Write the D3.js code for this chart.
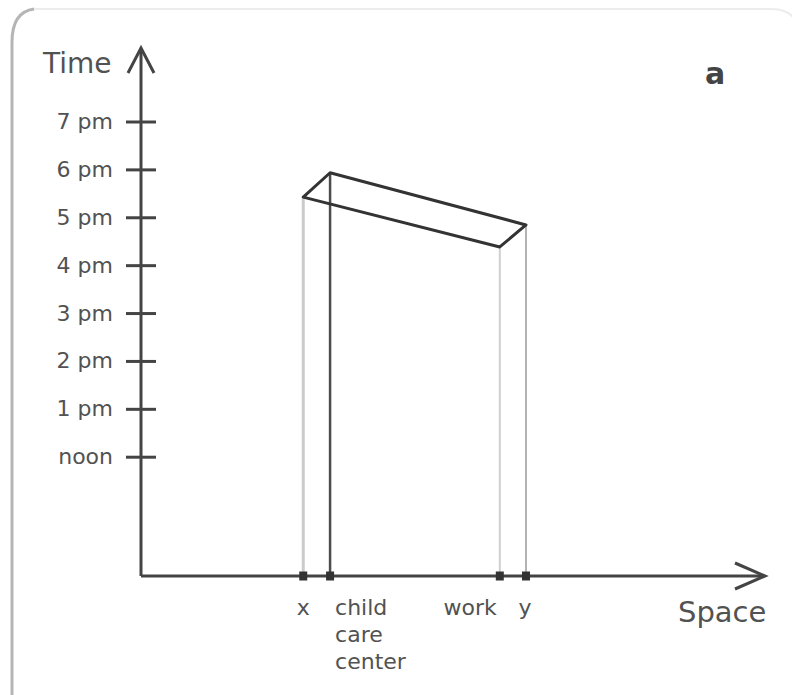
<!DOCTYPE html>
<html>
<head>
<meta charset="utf-8">
<script src="https://cdn.jsdelivr.net/npm/d3@7"></script>
<style>
  html, body { margin: 0; padding: 0; background: #fff; }
  svg { display: block; }
  text { font-family: "DejaVu Sans", sans-serif; fill: #525252; }
</style>
</head>
<body>
<svg id="chart" width="792" height="695"></svg>
<script>
// ---- data ----
const hourTicks = [12, 13, 14, 15, 16, 17, 18, 19];
const hourLabels = ["noon", "1 pm", "2 pm", "3 pm", "4 pm", "5 pm", "6 pm", "7 pm"];
const places = ["x", "child care center", "work", "y"];
const placeSpace = [26, 30.3, 57.5, 61.7];
// time (decimal hours) at which the prism meets each place's vertical line
const placeTime = [17.42, 17.93, 16.38, 16.84];
const prismOrder = ["x", "child care center", "y", "work"];

// ---- layout ----
const svg = d3.select("#chart");

const originX = 141, originY = 576;
const xScale = d3.scaleLinear().domain([0, 100]).range([originX, 765]);
const yScale = d3.scaleLinear().domain([12, 19]).range([456.7, 121.5]);

// frame (rounded border, partially visible)
svg.append("path")
  .attr("d", "M12,695 L12,42 Q12,12 34,9")
  .attr("fill", "none").attr("stroke", "#b5b5b5").attr("stroke-width", 3);
svg.append("path")
  .attr("d", "M34,9 L772,9 Q790,9 796,22")
  .attr("fill", "none").attr("stroke", "#ececec").attr("stroke-width", 2);

// vertical lines at places
const vStyles = [
  { stroke: "#cbcbcb", width: 3 },
  { stroke: "#4d4d4d", width: 2.5 },
  { stroke: "#cfcfcf", width: 2 },
  { stroke: "#9a9a9a", width: 1.5 }
];
svg.append("g").selectAll("line")
  .data(places)
  .join("line")
  .attr("x1", (d, i) => xScale(placeSpace[i]))
  .attr("x2", (d, i) => xScale(placeSpace[i]))
  .attr("y1", originY)
  .attr("y2", (d, i) => yScale(placeTime[i]))
  .attr("stroke", (d, i) => vStyles[i].stroke)
  .attr("stroke-width", (d, i) => vStyles[i].width);

// prism
const prismPts = prismOrder.map(p => {
  const i = places.indexOf(p);
  return [xScale(placeSpace[i]), yScale(placeTime[i])];
});
svg.append("path")
  .attr("d", d3.line()(prismPts) + "Z")
  .attr("fill", "none")
  .attr("stroke", "#333")
  .attr("stroke-width", 3)
  .attr("stroke-linejoin", "round");

// y axis
const yAxis = d3.axisLeft(yScale)
  .tickValues(hourTicks)
  .tickFormat((d, i) => hourLabels[i])
  .tickSize(15)
  .tickPadding(13);
const gy = svg.append("g").attr("transform", `translate(${originX},0)`).call(yAxis);
gy.select(".domain").remove();
gy.selectAll(".tick line")
  .attr("x1", -15).attr("x2", 15)
  .attr("stroke", "#444").attr("stroke-width", 3);
gy.selectAll(".tick text")
  .attr("font-size", 22)
  .attr("font-family", "DejaVu Sans, sans-serif")
  .attr("fill", "#525252")
  .attr("dy", "0.32em");

// axis lines with arrows
svg.append("path")
  .attr("d", `M${originX},${originY} L${originX},49`)
  .attr("stroke", "#444").attr("stroke-width", 3).attr("fill", "none");
svg.append("path")
  .attr("d", `M${originX - 13},73 L${originX},48 L${originX + 13},73`)
  .attr("stroke", "#444").attr("stroke-width", 3).attr("fill", "none");
svg.append("path")
  .attr("d", `M${originX},${originY} L764,${originY}`)
  .attr("stroke", "#444").attr("stroke-width", 3).attr("fill", "none");
svg.append("path")
  .attr("d", `M735,${originY - 13} L765,${originY} L735,${originY + 13}`)
  .attr("stroke", "#444").attr("stroke-width", 3).attr("fill", "none");

// markers on x axis
svg.append("g").selectAll("rect")
  .data(places)
  .join("rect")
  .attr("x", (d, i) => xScale(placeSpace[i]) - 4)
  .attr("y", originY - 4.5)
  .attr("width", 8).attr("height", 9)
  .attr("fill", "#333");

// place labels
const anchors = ["middle", "start", "end", "middle"];
const offsets = [0, 5, -3, -1];
const labels = svg.append("g").selectAll("text")
  .data(places)
  .join("text")
  .attr("x", (d, i) => xScale(placeSpace[i]) + offsets[i])
  .attr("y", 615)
  .attr("text-anchor", (d, i) => anchors[i])
  .attr("font-size", 22);
labels.each(function(d, i) {
  const words = i === 1 ? d.split(" ") : [d];
  const t = d3.select(this);
  words.forEach((w, k) => {
    t.append("tspan")
      .attr("x", xScale(placeSpace[i]) + offsets[i])
      .attr("dy", k === 0 ? 0 : 27)
      .text(w);
  });
});

// axis titles
svg.append("text").attr("x", 43).attr("y", 73).attr("font-size", 28).text("Time");
svg.append("text").attr("x", 678).attr("y", 622).attr("font-size", 29).text("Space");
svg.append("text").attr("x", 705).attr("y", 84).attr("font-size", 30)
  .attr("font-weight", "bold").style("fill", "#444").text("a");
</script>
</body>
</html>
